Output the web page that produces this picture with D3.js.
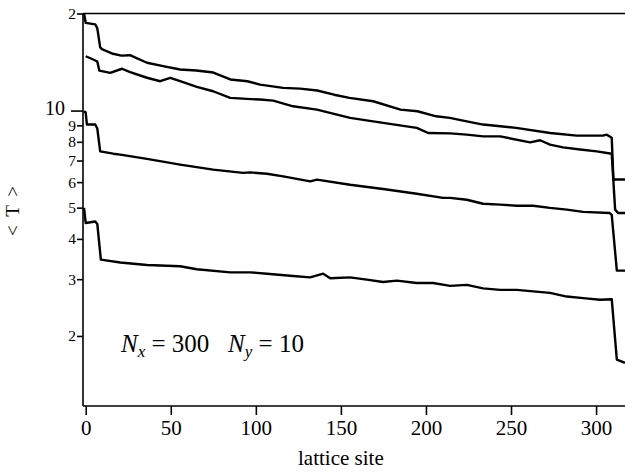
<!DOCTYPE html>
<meta charset="utf-8">
<style>
  body { margin: 0; background: #fff; }
  svg { display: block; }
  .axis path, .axis line { stroke: #000; stroke-width: 1.6; }
  .frame { stroke: #000; stroke-width: 1.6; }
  path.curve { fill: none; stroke: #000; stroke-width: 2.4; stroke-linejoin: round; }
</style>
<body>
<script src="https://cdn.jsdelivr.net/npm/d3@7"></script>
<script>

    // <T> along the lattice as [site, T]
    var seriesA = [[-1, 20.0], [0, 18.7], [5.6, 18.5], [6.8, 18.0], [8.5, 15.7], [9.5, 15.5], [16, 15.0],
        [21, 14.8], [26, 14.85], [36, 14.07], [45.5, 13.73], [55.5, 13.41], [65, 13.31], [75, 13.12],
        [85, 12.49], [95, 12.33], [102.5, 12.04], [116, 11.76], [126, 11.7], [136, 11.54], [146, 11.2],
        [155, 10.95], [169, 10.69], [185, 10.07], [195, 9.95], [206, 9.60], [214, 9.49], [224, 9.26],
        [233.6, 9.05], [253, 8.84], [273, 8.52], [288.6, 8.36], [304, 8.36], [306.3, 8.42], [309.2, 8.23],
        [310.2, 6.11], [317, 6.11]];

    var seriesB = [[0, 14.74], [4.4, 14.40], [6.8, 14.20], [8, 13.3], [14.4, 13.09], [21.3, 13.48],
        [26.1, 13.15], [36, 12.64], [43.8, 12.33], [49.7, 12.64], [55.5, 12.33], [65.3, 11.85],
        [74.9, 11.48], [84.9, 10.95], [94.7, 10.87], [102.5, 10.82], [110.2, 10.74], [121.9, 10.31],
        [135.9, 10.07], [155.4, 9.49], [174.8, 9.16], [194.6, 8.84], [201.3, 8.52], [214.2, 8.5],
        [224, 8.42], [233.6, 8.32], [243.6, 8.32], [261.2, 7.97], [267.1, 8.09], [272.9, 7.84],
        [280.6, 7.69], [290.6, 7.57], [300.4, 7.47], [309.2, 7.35], [311.2, 4.93], [312.9, 4.81],
        [317, 4.81]];

    var seriesC = [[-1, 9.95], [0, 9.86], [0.7, 9.05], [5.6, 9.05], [6.8, 8.8], [8.5, 7.47],
        [16.2, 7.35], [20.3, 7.30], [36, 7.08], [55.5, 6.80], [74.9, 6.56], [92.5, 6.41], [96.7, 6.43],
        [106.5, 6.37], [116.1, 6.25], [132, 6.03], [135.9, 6.11], [155.4, 5.89], [174.8, 5.71],
        [194.6, 5.52], [210, 5.36], [214.2, 5.36], [224, 5.29], [233.6, 5.14], [243.6, 5.11],
        [253.4, 5.07], [263, 5.07], [272.9, 4.99], [282.8, 4.93], [292.4, 4.85], [308, 4.81],
        [309.2, 4.75], [312.2, 3.19], [317, 3.19]];

    var seriesD = [[-1, 4.99], [0, 4.48], [5.6, 4.53], [6.8, 4.45], [8.9, 3.45], [20.3, 3.38],
        [36, 3.32], [55.5, 3.29], [65.3, 3.22], [84.9, 3.15], [96.7, 3.15], [106.5, 3.12],
        [121.9, 3.07], [131.9, 3.04], [139.6, 3.12], [143.7, 3.02], [155.4, 3.04], [165.2, 2.99],
        [174.8, 2.94], [182.9, 2.97], [194.6, 2.92], [204.2, 2.92], [214.2, 2.86], [224, 2.88],
        [233.6, 2.81], [243.6, 2.78], [253.4, 2.78], [263, 2.75], [272.9, 2.72], [282.8, 2.65],
        [292.4, 2.62], [302.3, 2.59], [309.2, 2.60], [312.2, 1.69], [317, 1.65]];

    var xTicks = [0, 50, 100, 150, 200, 250, 300];
    var yTicks = [2, 3, 4, 5, 6, 7, 8, 9, 10, 20];
    var yTickLabels = ["2", "3", "4", "5", "6", "7", "8", "9", "10", "2"];

    var serif = "'Liberation Serif', 'Times New Roman', Times, serif";

    var width = 625, height = 472;
    var margin = {top: 13.5, right: 0, bottom: 66, left: 83};

    var x = d3.scaleLinear()
            .domain([-1.6, 317])
            .range([margin.left, width - margin.right]);

    var y = d3.scaleLog()
            .domain([1.213, 20])
            .range([height - margin.bottom, margin.top]);

    var svg = d3.select("body").append("svg")
            .attr("width", width)
            .attr("height", height)
            .attr("font-family", serif);

    svg.append("defs").append("clipPath")
            .attr("id", "plotClip")
            .append("rect")
            .attr("x", margin.left)
            .attr("y", 0)
            .attr("width", width - margin.left)
            .attr("height", height - margin.bottom);

    // top edge of the box
    svg.append("line")
            .attr("class", "frame")
            .attr("x1", margin.left).attr("x2", width)
            .attr("y1", margin.top).attr("y2", margin.top);

    var xAxis = d3.axisBottom(x)
            .tickValues(xTicks)
            .tickSize(9)
            .tickSizeOuter(0)
            .tickPadding(5);

    var gx = svg.append("g")
            .attr("class", "x axis")
            .attr("transform", "translate(0," + (height - margin.bottom) + ")")
            .call(xAxis)
            .attr("font-family", serif)
            .attr("font-size", 21);
    gx.select(".domain").attr("d", "M" + margin.left + ",0H" + width);

    var yAxis = d3.axisLeft(y)
            .tickValues(yTicks)
            .tickFormat(function(d, i) { return yTickLabels[i]; })
            .tickSize(6)
            .tickSizeOuter(0)
            .tickPadding(1);

    var gy = svg.append("g")
            .attr("class", "y axis")
            .attr("transform", "translate(" + margin.left + ",0)")
            .call(yAxis)
            .attr("font-family", serif)
            .attr("font-size", 15.5);
    gy.select(".domain").attr("d", "M0," + margin.top + "V" + (height - margin.bottom));
    gy.selectAll(".tick").filter(function(d) { return d === 10; })
            .call(function(t) {
                t.select("line").attr("x2", -12);
                t.select("text").attr("x", -18).attr("font-size", 20).attr("dy", "0.2em");
            });

    svg.append("text")
            .attr("transform", "translate(19,210) rotate(-90)")
            .attr("text-anchor", "middle")
            .attr("font-size", 19)
            .style("letter-spacing", "2px")
            .text("< T >");

    svg.append("text")
            .attr("x", x(150))
            .attr("y", 465)
            .attr("text-anchor", "middle")
            .attr("font-size", 21)
            .text("lattice site");

    var note = svg.append("text")
            .attr("x", 121)
            .attr("y", 352)
            .attr("font-size", 25)
            .style("white-space", "pre");
    note.append("tspan").style("font-style", "italic").text("N");
    note.append("tspan").attr("dy", 5).style("font-style", "italic").attr("font-size", 17).text("x");
    note.append("tspan").attr("dy", -5).text(" = 300   ");
    note.append("tspan").style("font-style", "italic").text("N");
    note.append("tspan").attr("dy", 5).style("font-style", "italic").attr("font-size", 17).text("y");
    note.append("tspan").attr("dy", -5).text(" = 10");

    var line = d3.line()
            .x(function(d) { return x(d[0]); })
            .y(function(d) { return y(d[1]); });

    svg.append("g")
            .attr("clip-path", "url(#plotClip)")
            .selectAll("path.curve")
            .data([seriesA, seriesB, seriesC, seriesD])
            .enter().append("path")
            .attr("class", "curve")
            .attr("d", line);

</script>
